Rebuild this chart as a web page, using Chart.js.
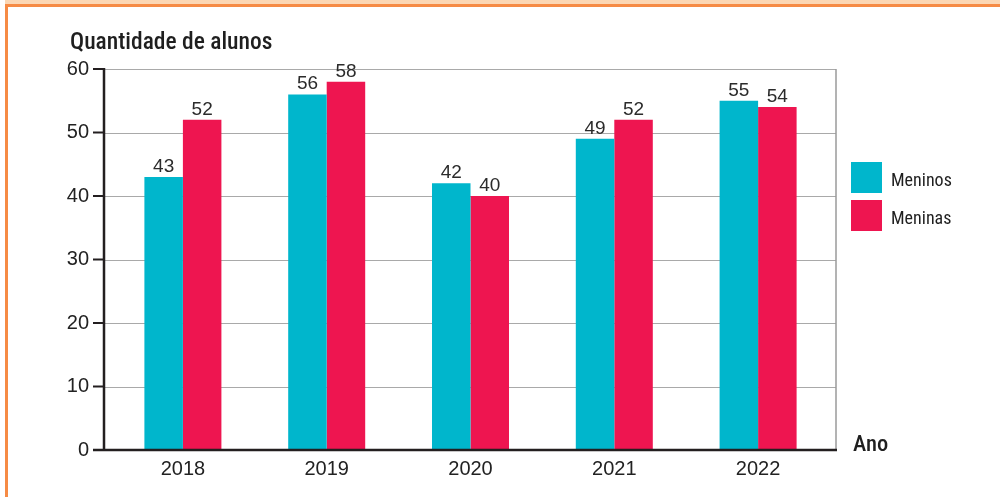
<!DOCTYPE html>
<html>
<head>
<meta charset="utf-8">
<script src="https://cdn.jsdelivr.net/npm/chart.js@4.4.1/dist/chart.umd.min.js"></script>
<style>
  html, body { margin: 0; padding: 0; background: #fff; }
  body { width: 1000px; height: 497px; position: relative; overflow: hidden; }
  .frame-band { position: absolute; left: 5px; top: 0; width: 1000px; height: 4px; background: #fcd7b4; }
  .frame { position: absolute; left: 5px; top: 4px; width: 1000px; height: 500px;
           border-top: 3px solid #f68b45; border-left: 3px solid #f68b45; box-sizing: border-box; }
  #wrap { position: absolute; left: 0; top: 0; width: 1000px; height: 497px; }
</style>
</head>
<body>
<div class="frame-band"></div>
<div class="frame"></div>
<div id="wrap"><canvas id="chart" width="1000" height="497"></canvas></div>
<script>
// Número de alunos por ano
const anos = ['2018', '2019', '2020', '2021', '2022'];
const meninos = [43, 56, 42, 49, 55];
const meninas = [52, 58, 40, 52, 54];
const yTicks = [0, 10, 20, 30, 40, 50, 60];

const COR_MENINOS = '#00b6cc';
const COR_MENINAS = '#ee1550';
const NUM_FONT = "'Liberation Sans', Arial, sans-serif";
const COND_FONT = "'Liberation Sans Narrow', 'Arial Narrow', 'Roboto Condensed', sans-serif";

// Moldura do gráfico: grade, eixos, borda, títulos e legenda
const framePlugin = {
  id: 'frame',
  beforeDatasetsDraw(chart) {
    const { ctx, chartArea, scales } = chart;
    const y = scales.y;
    const left = chartArea.left - 7, right = chartArea.right + 6;
    ctx.save();
    // linhas horizontais
    ctx.strokeStyle = '#a9a9a9';
    ctx.lineWidth = 1;
    yTicks.forEach(v => {
      if (v === 0) return;
      const py = Math.round(y.getPixelForValue(v)) + 0.5;
      ctx.beginPath(); ctx.moveTo(left, py); ctx.lineTo(right, py); ctx.stroke();
    });
    // borda direita
    ctx.strokeStyle = '#9a9a9a';
    ctx.lineWidth = 1.5;
    ctx.beginPath();
    ctx.moveTo(right, y.getPixelForValue(60));
    ctx.lineTo(right, y.getPixelForValue(0));
    ctx.stroke();
    ctx.restore();
  },
  afterDatasetsDraw(chart) {
    const { ctx, chartArea, scales } = chart;
    const y = scales.y;
    const left = chartArea.left - 7, right = chartArea.right + 6;
    const top = y.getPixelForValue(60), bottom = y.getPixelForValue(0);
    ctx.save();
    ctx.strokeStyle = '#231f20';
    ctx.lineWidth = 2.5;
    // eixo vertical
    ctx.beginPath(); ctx.moveTo(left, top - 1); ctx.lineTo(left, bottom + 1); ctx.stroke();
    // eixo horizontal
    ctx.beginPath(); ctx.moveTo(left - 11, bottom); ctx.lineTo(right + 1, bottom); ctx.stroke();
    // marcas do eixo vertical
    ctx.lineWidth = 2;
    yTicks.forEach(v => {
      const py = y.getPixelForValue(v);
      ctx.beginPath(); ctx.moveTo(left - 11, py); ctx.lineTo(left, py); ctx.stroke();
    });

    // rótulos de valor sobre as barras
    ctx.fillStyle = '#2b2b2b';
    ctx.font = '19px ' + NUM_FONT;
    ctx.textAlign = 'center';
    ctx.textBaseline = 'alphabetic';
    chart.data.datasets.forEach((ds, i) => {
      chart.getDatasetMeta(i).data.forEach((bar, j) => {
        ctx.fillText(String(ds.data[j]), bar.x, bar.y - 5);
      });
    });

    // título do eixo vertical e do eixo horizontal
    ctx.fillStyle = '#1f1f1f';
    ctx.font = '500 23.5px ' + COND_FONT;
    ctx.textAlign = 'left';
    ctx.fillText('Quantidade de alunos', 70, 48.5);
    ctx.font = '500 22.5px ' + COND_FONT;
    ctx.fillText('Ano', 853, 451);

    // legenda
    const itens = [
      { cor: COR_MENINOS, texto: chart.data.datasets[0].label, y: 162 },
      { cor: COR_MENINAS, texto: chart.data.datasets[1].label, y: 200 }
    ];
    ctx.font = '18px ' + COND_FONT;
    ctx.textBaseline = 'alphabetic';
    itens.forEach(it => {
      ctx.fillStyle = it.cor;
      ctx.fillRect(851, it.y, 31, 31);
      ctx.fillStyle = '#1f1f1f';
      ctx.fillText(it.texto, 891, it.y + 24);
    });
    ctx.restore();
  }
};

new Chart(document.getElementById('chart'), {
  type: 'bar',
  data: {
    labels: anos,
    datasets: [
      { label: 'Meninos', data: meninos, backgroundColor: COR_MENINOS },
      { label: 'Meninas', data: meninas, backgroundColor: COR_MENINAS }
    ]
  },
  options: {
    responsive: false,
    animation: false,
    devicePixelRatio: 1,
    layout: { padding: { top: 69, right: 170, bottom: 0, left: 0 } },
    datasets: {
      bar: { barPercentage: 1.0, categoryPercentage: 0.5355, borderWidth: 0 }
    },
    plugins: {
      legend: { display: false },
      tooltip: { enabled: false },
      title: { display: false }
    },
    scales: {
      x: {
        grid: { display: false, drawTicks: false },
        border: { display: false },
        ticks: { color: '#222', font: { family: NUM_FONT, size: 20 }, padding: 7 },
        afterFit(scale) { scale.height = 47; }
      },
      y: {
        min: 0, max: 60,
        grid: { display: false, drawTicks: false },
        border: { display: false },
        ticks: { stepSize: 10, color: '#222', font: { family: NUM_FONT, size: 20 }, padding: 22 },
        afterFit(scale) { scale.width = 111; }
      }
    }
  },
  plugins: [framePlugin]
});
</script>
</body>
</html>
